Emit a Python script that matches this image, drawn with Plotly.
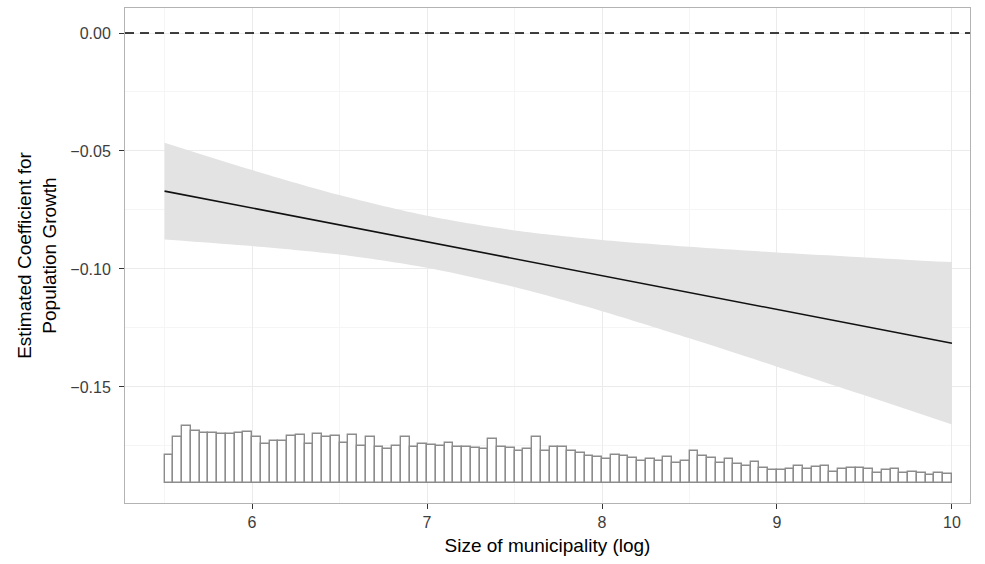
import plotly.graph_objects as go

# Marginal effect line and 95% band
x_grid = [5.5, 6.0, 6.5, 7.0, 7.5, 8.0, 8.5, 9.0, 9.5, 10.0]
coef = [-0.0670, -0.0742, -0.0813, -0.0885, -0.0957, -0.1028, -0.1100, -0.1172, -0.1243, -0.1315]
upper = [-0.0465, -0.0581, -0.0687, -0.0775, -0.0837, -0.0877, -0.0906, -0.0930, -0.0951, -0.0971]
lower = [-0.0875, -0.0903, -0.0939, -0.0995, -0.1077, -0.1179, -0.1294, -0.1414, -0.1535, -0.1659]

# Histogram of the moderator (drawn at bottom of panel)
hist_base = -0.1907
hist_centers = [round(5.525 + 0.05 * i, 3) for i in range(90)]
hist_top = [
    -0.1788, -0.1712, -0.1665, -0.1686, -0.1695, -0.1695, -0.1699, -0.1699, -0.1695, -0.1691,
    -0.1712, -0.1742, -0.1729, -0.1729, -0.1708, -0.1703, -0.1742, -0.1699, -0.1712, -0.1708,
    -0.1737, -0.1703, -0.1750, -0.1712, -0.1754, -0.1763, -0.1750, -0.1712, -0.1754, -0.1742,
    -0.1746, -0.1750, -0.1737, -0.1754, -0.1754, -0.1758, -0.1763, -0.1720, -0.1754, -0.1758,
    -0.1771, -0.1763, -0.1712, -0.1771, -0.1754, -0.1754, -0.1771, -0.1780, -0.1792, -0.1797,
    -0.1805, -0.1788, -0.1792, -0.1801, -0.1814, -0.1805, -0.1814, -0.1797, -0.1822, -0.1814,
    -0.1771, -0.1792, -0.1801, -0.1822, -0.1805, -0.1826, -0.1835, -0.1818, -0.1843, -0.1852,
    -0.1852, -0.1847, -0.1835, -0.1847, -0.1839, -0.1835, -0.1860, -0.1847, -0.1843, -0.1843,
    -0.1847, -0.1864, -0.1852, -0.1847, -0.1864, -0.1860, -0.1864, -0.1873, -0.1864, -0.1869,
]

x_ticks = [6, 7, 8, 9, 10]
y_ticks = [0.0, -0.05, -0.10, -0.15]
y_tick_text = ["0.00", "\u22120.05", "\u22120.10", "\u22120.15"]

fig = go.Figure()

fig.add_trace(go.Scatter(x=x_grid, y=upper, mode="lines",
                         line=dict(width=0, shape="spline", smoothing=0.8),
                         showlegend=False, hoverinfo="skip"))
fig.add_trace(go.Scatter(x=x_grid, y=lower, mode="lines",
                         line=dict(width=0, shape="spline", smoothing=0.8),
                         fill="tonexty", fillcolor="#e3e3e3",
                         showlegend=False, hoverinfo="skip"))
fig.add_trace(go.Scatter(x=x_grid, y=coef, mode="lines",
                         line=dict(color="#111111", width=1.6), showlegend=False))

fig.add_trace(go.Bar(x=hist_centers,
                     y=[t - hist_base for t in hist_top],
                     base=hist_base, width=0.05,
                     marker=dict(color="white", line=dict(color="#8c8c8c", width=1.4)),
                     showlegend=False))

fig.add_shape(type="line", xref="paper", x0=0, x1=1, yref="y", y0=0, y1=0,
              line=dict(color="black", width=1.5, dash="9px,6px"))

axis_common = dict(
    showgrid=True, gridcolor="#ebebeb", gridwidth=1,
    zeroline=False, showline=True, linecolor="#b3b3b3", linewidth=1, mirror=True,
    ticks="outside", ticklen=5, tickcolor="#333333", tickwidth=1,
    tickfont=dict(family="Liberation Sans, Arial", size=16, color="#3d3d3d"),
)

fig.update_layout(
    width=985, height=564,
    margin=dict(l=125, r=15, t=8, b=61),
    paper_bgcolor="white", plot_bgcolor="white",
    bargap=0,
    xaxis=dict(range=[5.274, 10.103], tickvals=x_ticks, ticktext=[str(v) for v in x_ticks],
               minor=dict(tickvals=[5.5, 6.5, 7.5, 8.5, 9.5], showgrid=True,
                          gridcolor="#f5f5f5", gridwidth=0.6, ticks=""),
               title=dict(text="Size of municipality (log)", standoff=8,
                          font=dict(family="Liberation Sans, Arial", size=19, color="black")),
               **axis_common),
    yaxis=dict(range=[-0.1992, 0.0106], tickvals=y_ticks, ticktext=y_tick_text,
               ticklabelstandoff=5,
               minor=dict(tickvals=[-0.025, -0.075, -0.125, -0.175], showgrid=True,
                          gridcolor="#f5f5f5", gridwidth=0.6, ticks=""),
               title=dict(text="Estimated Coefficient for<br>Population Growth", standoff=8,
                          font=dict(family="Liberation Sans, Arial", size=19, color="black")),
               **axis_common),
)

fig.write_html("out.html")
